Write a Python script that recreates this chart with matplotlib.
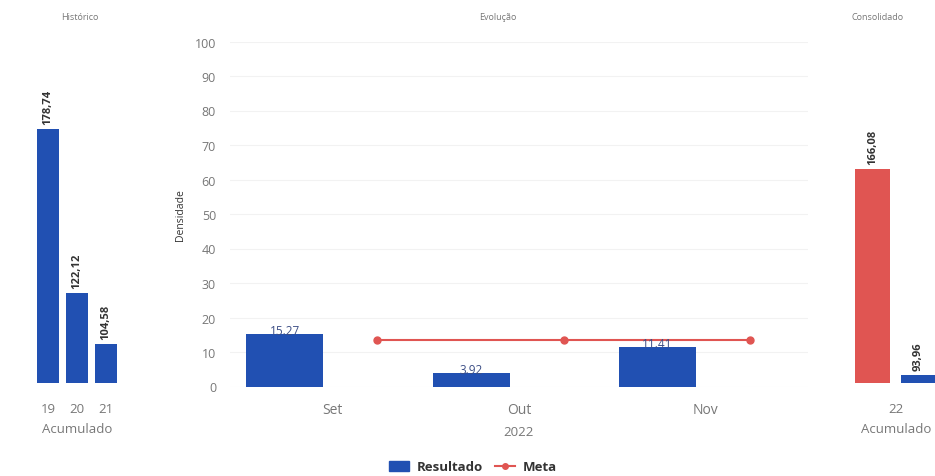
import matplotlib
matplotlib.use("Agg")
import matplotlib.pyplot as plt
from matplotlib.lines import Line2D
from matplotlib.patches import Patch
import numpy as np

plt.rcParams['font.family'] = ['Open Sans', 'DejaVu Sans']

# ---------------- data ----------------
hist_years = ["19", "20", "21"]
hist_values = [178.74, 122.12, 104.58]

months = ["Set", "Out", "Nov"]
resultado = [15.27, 3.92, 11.41]
meta = [13.6, 13.6, 13.6]
year_label = "2022"

cons_years = ["22"]
cons_red = [166.08]
cons_blue = [93.96]

BLUE = "#2150b2"
RED = "#e05552"
GRAY = "#777777"
DARK = "#333333"

fig = plt.figure(figsize=(9.35, 4.77), dpi=100)
W, H = 935, 477


def ax_px(x0, y0, x1, y1):
    return fig.add_axes([x0 / W, 1 - y1 / H, (x1 - x0) / W, (y1 - y0) / H])


def fmt_br(v):
    return f"{v:.2f}".replace(".", ",")


def clean(ax):
    for s in ax.spines.values():
        s.set_visible(False)
    ax.tick_params(length=0)


# ---------------- Histórico ----------------
axh = ax_px(30.6, 40, 123.4, 384)
xh = np.arange(len(hist_years))
axh.bar(xh, hist_values, width=0.76, color=BLUE)
axh.set_ylim(91.1, 209.7)
axh.set_xlim(-0.6, 2.6)
axh.set_yticks([])
axh.set_xticks(xh)
axh.set_xticklabels(hist_years, color=GRAY, fontsize=9.5)
axh.tick_params(axis='x', pad=14)
axh.set_xlabel("Acumulado", color=GRAY, fontsize=9.5, labelpad=5)
clean(axh)
for x, v in zip(xh, hist_values):
    axh.annotate(fmt_br(v), (x, v), xytext=(0, 3.5), textcoords="offset points",
                 rotation=90, ha="center", va="bottom", fontsize=8,
                 fontweight="bold", color=DARK)
fig.text(80 / W, 1 - 17 / H, "Histórico", ha="center", va="center",
         fontsize=6.5, color=GRAY)

# ---------------- Evolução ----------------
axe = ax_px(230, 42.5, 808, 387.5)
xm = np.arange(len(months))
axe.bar(xm - 0.257, resultado, width=0.413, color=BLUE, zorder=2)
axe.plot(xm + 0.24, meta, color=RED, marker="o", markersize=5,
         linewidth=1.5, zorder=3)
axe.set_ylim(0, 100)
axe.set_xlim(-0.55, 2.55)
axe.set_yticks(np.arange(0, 101, 10))
axe.tick_params(axis='y', labelsize=9, labelcolor=GRAY, pad=10)
axe.set_xticks(xm)
axe.set_xticklabels(months, color=GRAY, fontsize=10)
axe.tick_params(axis='x', pad=11)
axe.set_xlabel(year_label, color=GRAY, fontsize=9.5, labelpad=6)
axe.set_ylabel("Densidade", color=DARK, fontsize=7.5, labelpad=6)
axe.grid(axis='y', color="#f2f2f2", linewidth=0.8, zorder=0)
axe.set_axisbelow(True)
clean(axe)
for x, v in zip(xm - 0.257, resultado):
    axe.annotate(f"{v:.2f}", (x, v), xytext=(0, -2), textcoords="offset points",
                 ha="center", va="bottom", fontsize=8.5, color="#3d4f86", zorder=4)
fig.text(498 / W, 1 - 17 / H, "Evolução", ha="center", va="center",
         fontsize=6.5, color=GRAY)

handles = [Patch(facecolor=BLUE, edgecolor=BLUE),
           Line2D([0], [0], color=RED, marker="o", markersize=4, linewidth=1.5)]
leg = fig.legend(handles, ["Resultado", "Meta"], loc="center",
                 bbox_to_anchor=(473 / W, 1 - 468 / H), ncol=2, frameon=False,
                 prop={"size": 9.5, "weight": "bold"}, handlelength=1.5,
                 columnspacing=0.9, handletextpad=0.6)
for t in leg.get_texts():
    t.set_color(DARK)

# ---------------- Consolidado ----------------
axc = ax_px(848, 40, 944, 384)
xc = np.arange(len(cons_years))
axc.bar(xc - 0.235, cons_red, width=0.35, color=RED)
axc.bar(xc + 0.225, cons_blue, width=0.35, color=BLUE)
axc.set_ylim(91.2, 211.6)
axc.set_xlim(-0.48, 0.48)
axc.set_yticks([])
axc.set_xticks(xc)
axc.set_xticklabels(cons_years, color=GRAY, fontsize=9.5)
axc.tick_params(axis='x', pad=14)
axc.set_xlabel("Acumulado", color=GRAY, fontsize=9.5, labelpad=5)
clean(axc)
for x, v in zip(xc - 0.235, cons_red):
    axc.annotate(fmt_br(v), (x, v), xytext=(0, 3.5), textcoords="offset points",
                 rotation=90, ha="center", va="bottom", fontsize=8,
                 fontweight="bold", color=DARK)
for x, v in zip(xc + 0.225, cons_blue):
    axc.annotate(fmt_br(v), (x, v), xytext=(0, 3.5), textcoords="offset points",
                 rotation=90, ha="center", va="bottom", fontsize=8,
                 fontweight="bold", color=DARK)
fig.text(878 / W, 1 - 17 / H, "Consolidado", ha="center", va="center",
         fontsize=6.5, color=GRAY)

fig.savefig("out.png", dpi=100)
